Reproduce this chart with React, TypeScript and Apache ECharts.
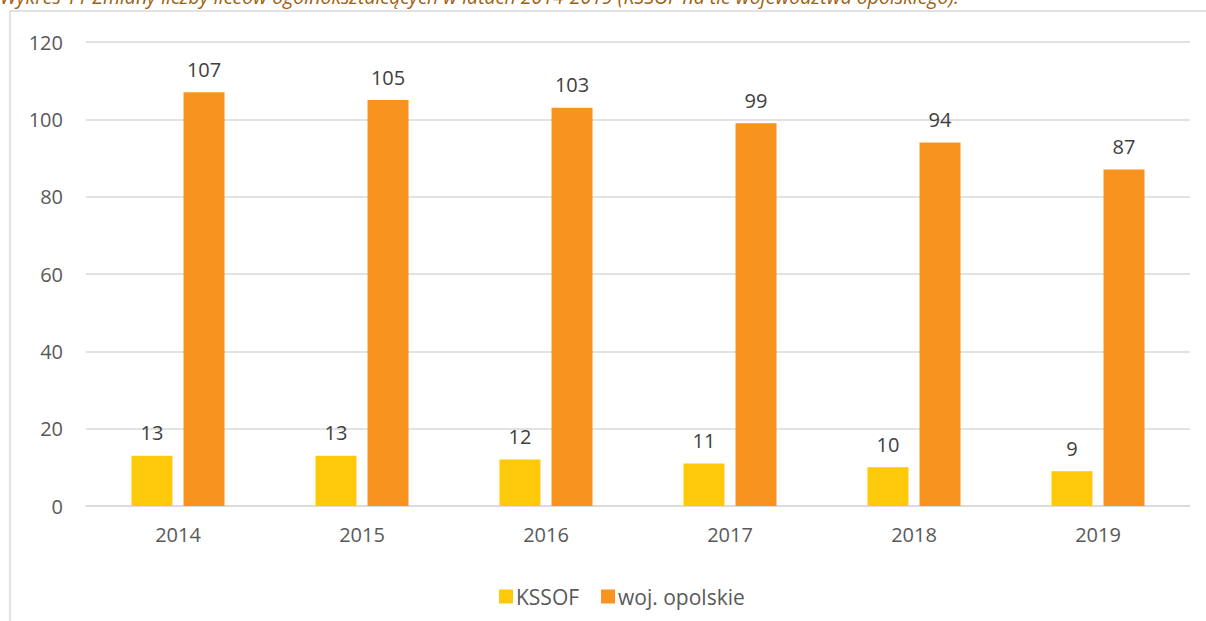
import React, { useEffect, useRef } from "react";
import * as echarts from "echarts";

const categories = ["2014", "2015", "2016", "2017", "2018", "2019"];
const kssof = [13, 13, 12, 11, 10, 9];
const opolskie = [107, 105, 103, 99, 94, 87];
const seriesNames = ["KSSOF", "woj. opolskie"];
const titleText =
  "Wykres 11 Zmiany liczby liceów ogólnokształcących w latach 2014-2019 (KSSOF na tle województwa opolskiego).";

export default function App() {
  const ref = useRef<HTMLDivElement>(null);
  useEffect(() => {
    document.body.style.margin = "0";
    const chart = echarts.init(ref.current!, null, { renderer: "svg" });
    const font = "'Open Sans', 'Noto Sans', sans-serif";
    const label = {
      show: true,
      position: "top",
      distance: 13,
      color: "#404040",
      fontSize: 20,
      fontFamily: font,
    };
    chart.setOption({
      animation: false,
      backgroundColor: "#ffffff",
      graphic: [
        {
          type: "rect",
          shape: { x: 10, y: 11, width: 1300, height: 700 },
          style: { fill: "none", stroke: "#d9d9d9", lineWidth: 1.5 },
          silent: true,
          z: -10,
        },
        {
          type: "text",
          x: 0,
          y: 6,
          style: {
            text: titleText,
            fill: "#a0600e",
            font: `italic 19.5px ${font}`,
            textVerticalAlign: "bottom",
            textAlign: "left",
          },
        },
      ],
      legend: {
        data: seriesNames,
        left: 494,
        top: 581,
        itemWidth: 14,
        itemHeight: 14,
        itemGap: 22,
        icon: "rect",
        textStyle: { color: "#595959", fontSize: 21, fontFamily: font, padding: [0, 0, 0, -2] },
      },
      grid: { left: 86, right: 16, top: 42, bottom: 115, containLabel: false },
      xAxis: {
        type: "category",
        data: categories,
        axisLine: { show: true, lineStyle: { color: "#d9d9d9", width: 1.5 } },
        axisTick: { show: false },
        axisLabel: { color: "#595959", fontSize: 20, fontFamily: font, margin: 18 },
      },
      yAxis: {
        type: "value",
        min: 0,
        max: 120,
        interval: 20,
        axisLine: { show: false },
        axisTick: { show: false },
        splitLine: { lineStyle: { color: "#d9d9d9", width: 1.5 } },
        axisLabel: { color: "#595959", fontSize: 20, fontFamily: font, margin: 23 },
      },
      series: [
        {
          name: seriesNames[0],
          type: "bar",
          data: kssof,
          barWidth: 41,
          barGap: "27%",
          itemStyle: { color: "#ffc90b" },
          label,
        },
        {
          name: seriesNames[1],
          type: "bar",
          data: opolskie,
          barWidth: 41,
          barGap: "27%",
          itemStyle: { color: "#f7931e" },
          label,
        },
      ],
    });
    return () => chart.dispose();
  }, []);
  return (
    <div
      ref={ref}
      style={{ position: "absolute", left: 0, top: 0, width: 1206, height: 621 }}
    />
  );
}
